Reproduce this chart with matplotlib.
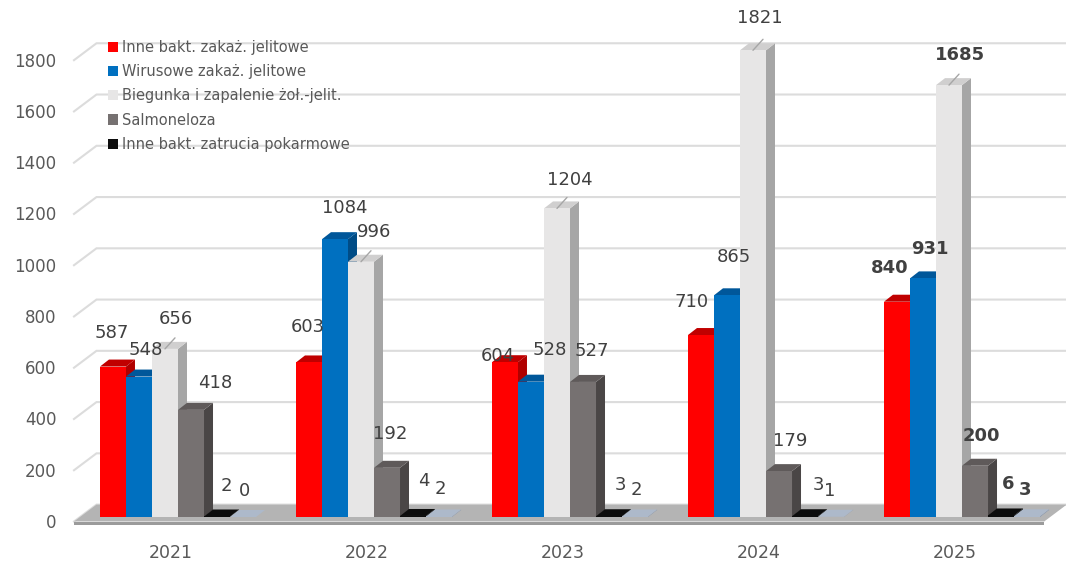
import matplotlib
matplotlib.use("Agg")
import matplotlib.pyplot as plt
from matplotlib.patches import Polygon, Patch
from matplotlib.transforms import IdentityTransform
import numpy as np

# --- data -------------------------------------------------------------
years = ["2021", "2022", "2023", "2024", "2025"]
legend_names = [
    "Inne bakt. zakaż. jelitowe",
    "Wirusowe zakaż. jelitowe",
    "Biegunka i zapalenie żoł.-jelit.",
    "Salmoneloza",
    "Inne bakt. zatrucia pokarmowe",
]
inne_bakt_zakaz = [587, 603, 604, 710, 840]
wirusowe = [548, 1084, 528, 865, 931]
biegunka = [656, 996, 1204, 1821, 1685]
salmoneloza = [418, 192, 527, 179, 200]
inne_bakt_zatrucia = [2, 4, 3, 3, 6]
pozostale = [0, 2, 2, 1, 3]   # sixth series, not listed in the legend

series = [inne_bakt_zakaz, wirusowe, biegunka, salmoneloza,
          inne_bakt_zatrucia, pozostale]

# front / top / side colours of each series
colors = [
    ("#ff0000", "#c00000", "#b00000"),
    ("#0070c0", "#00579a", "#004c86"),
    ("#e7e6e6", "#d0cfcf", "#a6a6a6"),
    ("#767171", "#5f5a5a", "#4a4646"),
    ("#0d0d0d", "#0d0d0d", "#000000"),
    ("#adb9ca", "#adb9ca", "#8496b0"),
]

# label offsets in pixels from the top-centre of each bar (right, down)
label_offsets = [
    [(-1, -34), (7, -27), (11, -30), (24, -27), (9, -30), (1, -26)],
    [(-1, -35), (10, -31), (13, -30), (3, -34), (11, -35), (1, -27)],
    [(-7, -6), (19, -32), (13, -28), (9, -31), (11, -31), (1, -26)],
    [(-9, -33), (7, -38), (7, -32), (11, -30), (13, -31), (-1, -26)],
    [(-7, -34), (7, -29), (11, -30), (6, -30), (7, -31), (-2, -26)],
]
bold_year = "2025"

# --- figure layout ------------------------------------------------------
W, H, DPI = 1066, 565, 100
fig = plt.figure(figsize=(W / DPI, H / DPI), dpi=DPI)
ax = fig.add_axes([75 / W, 35 / H, 991 / W, 530 / H])
ax.set_xlim(-0.5255, 4.5306)
ax.set_ylim(-50.7, 2017.2)
for s in ax.spines.values():
    s.set_visible(False)

n = len(series)
bw = 0.1327
x = np.arange(len(years))
depth = np.array([9.0, 7.0])       # bar depth in pixels
wall = np.array([16.5, 12.4])      # back wall offset
front = np.array([-6.0, -4.5])     # front edge of the floor
grid_c = "#dcdcdc"


def px(xd, yd):
    return np.array(ax.transData.transform((xd, yd)))


def face(pts, color, z):
    ax.add_patch(Polygon(np.array(pts), closed=True, facecolor=color,
                         edgecolor="none", transform=IdentityTransform(),
                         zorder=z, clip_on=False))


# back wall + left wall gridlines
for v in range(0, 1801, 200):
    p = px(-0.5, v)
    ax.plot([p[0] + front[0], p[0] + wall[0], W], [p[1] + front[1], p[1] + wall[1], p[1] + wall[1]],
            color=grid_c, lw=1.5, transform=IdentityTransform(), zorder=1,
            clip_on=False, solid_joinstyle="miter")

# floor slab
fl, fr = px(-0.5, 0), px(4.45, 0)
face([fl + front, fr + front, fr + wall, fl + wall], "#b4b4b4", 2)
face([fl + front, fr + front, fr + front - [0, 3.5], fl + front - [0, 3.5]], "#9b9b9b", 2)

# bars with top and side faces
for k, vals in enumerate(series):
    fc, tc, sc = colors[k]
    xs = x + (k - (n - 1) / 2) * bw
    z = 10 + 3 * k
    ax.bar(xs, vals, width=bw, color=fc, zorder=z + 2, clip_on=False)
    for xi, v in zip(xs, vals):
        tl, tr = px(xi - bw / 2, v), px(xi + bw / 2, v)
        br = px(xi + bw / 2, 0)
        face([tl, tr, tr + depth, tl + depth], tc, z + 1)
        face([br, tr, tr + depth, br + depth], sc, z)

# value labels
for g, yr in enumerate(years):
    for k, vals in enumerate(series):
        xc = x[g] + (k - (n - 1) / 2) * bw
        dx, dy = label_offsets[g][k]
        ax.annotate(str(vals[g]), xy=(xc, vals[g]), xytext=(dx, -dy),
                    textcoords="offset pixels", ha="center", va="center",
                    fontsize=13, color="#404040",
                    fontweight="bold" if yr == bold_year else "normal",
                    zorder=40)
        if k == 2:
            ax.annotate("", xy=(xc, vals[g]), xytext=(10, 11),
                        textcoords="offset pixels",
                        arrowprops=dict(arrowstyle="-", color="#a6a6a6", lw=1,
                                        shrinkA=0, shrinkB=0), zorder=39)

# axes ticks
ax.set_yticks(np.arange(0, 1801, 200) - 4 / 0.2563)
ax.set_yticklabels([str(v) for v in range(0, 1801, 200)])
ax.set_xticks(x - 7 / 196)
ax.set_xticklabels(years)
ax.tick_params(axis="y", length=0, pad=13.5, labelsize=12, labelcolor="#595959")
ax.tick_params(axis="x", length=0, pad=10, labelsize=12.5, labelcolor="#595959")

# legend
handles = [Patch(facecolor=colors[k][0], edgecolor="none") for k in range(5)]
ax.legend(handles, legend_names, loc="upper left",
          bbox_to_anchor=(108 / W, 1 - 40 / H), bbox_transform=fig.transFigure,
          frameon=False, fontsize=10.5, labelcolor="#595959",
          handlelength=0.7, handleheight=0.7, handletextpad=0.25,
          labelspacing=0.63, borderpad=0, borderaxespad=0)

fig.savefig("out.png", dpi=DPI)
